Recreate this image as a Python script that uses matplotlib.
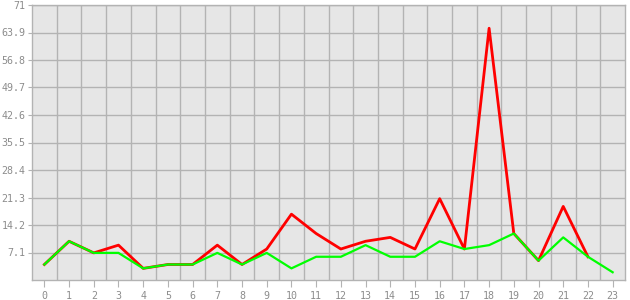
import numpy as np
import matplotlib.pyplot as plt

# Data
hours = list(range(24))
total = [4, 10, 7, 9, 3, 4, 4, 9, 4, 8, 17, 12, 8, 10, 11, 8, 21, 8, 65, 12, 5, 19, 6]
subset = [4, 10, 7, 7, 3, 4, 4, 7, 4, 7, 3, 6, 6, 9, 6, 6, 10, 8, 9, 12, 5, 11, 6, 2]
y_ticks = [7.1, 14.2, 21.3, 28.4, 35.5, 42.6, 49.7, 56.8, 63.9, 71]

fig = plt.figure(figsize=(6.3, 3.0), dpi=100)
ax = fig.add_axes([32 / 630, 20 / 300, 593 / 630, 275 / 300])
ax.set_facecolor("#e6e6e6")

ax.plot(hours[:len(total)], total, color="#ff0000", lw=2.0, zorder=3)
ax.plot(hours, subset, color="#00ff00", lw=1.6, zorder=4)

ax.set_xlim(-0.5, 23.5)
ax.set_ylim(0, 71)
ax.set_xticks(hours)
ax.set_xticks(np.arange(0.5, 23.5, 1), minor=True)
ax.set_yticks(y_ticks)
ax.set_yticklabels([f"{v:g}" for v in y_ticks])

ax.grid(True, which="minor", axis="x", color="#b3b3b3", lw=1)
ax.grid(True, which="major", axis="y", color="#b3b3b3", lw=1)
ax.set_axisbelow(True)

for s in ax.spines.values():
    s.set_color("#b3b3b3")
    s.set_linewidth(1)

ax.tick_params(axis="x", which="major", length=5, color="#b3b3b3",
               labelcolor="#8c8c8c", labelsize=7.2, pad=3)
ax.tick_params(axis="x", which="minor", length=0)
ax.tick_params(axis="y", length=3, color="#b3b3b3",
               labelcolor="#8c8c8c", labelsize=7.2, pad=1.5)
for lbl in ax.get_xticklabels() + ax.get_yticklabels():
    lbl.set_family("DejaVu Sans Mono")

fig.savefig("out.png", dpi=100)
